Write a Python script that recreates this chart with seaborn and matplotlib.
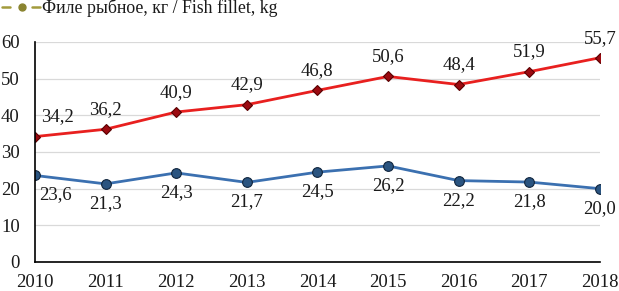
import matplotlib
matplotlib.use("Agg")
import matplotlib.pyplot as plt
from matplotlib.lines import Line2D
import seaborn as sns
import pandas as pd

years = [2010, 2011, 2012, 2013, 2014, 2015, 2016, 2017, 2018]
red_values = [34.2, 36.2, 40.9, 42.9, 46.8, 50.6, 48.4, 51.9, 55.7]
blue_values = [23.6, 21.3, 24.3, 21.7, 24.5, 26.2, 22.2, 21.8, 20.0]
legend_label = "Филе рыбное, кг / Fish fillet, kg"

sns.set_theme(style="white")
plt.rcParams['font.family'] = ['Liberation Serif', 'DejaVu Serif']

df = pd.DataFrame({"year": years, "red": red_values, "blue": blue_values})

W, H = 619, 291
fig = plt.figure(figsize=(W / 100, H / 100), dpi=100)
ax = fig.add_axes([0.0565, 0.0997, 0.9125, 0.756])

sns.lineplot(data=df, x="year", y="red", ax=ax, color="#e8201f", lw=2,
             marker="D", markersize=5.5, markerfacecolor="#9b0a10",
             markeredgecolor="#5a0000", markeredgewidth=0.8)
sns.lineplot(data=df, x="year", y="blue", ax=ax, color="#3b70b0", lw=2,
             marker="o", markersize=7, markerfacecolor="#2a5480",
             markeredgecolor="#10253d", markeredgewidth=0.8)

fs = 13.5
for i, (x, v) in enumerate(zip(years, red_values)):
    dx = 16 if i == 0 else 0
    ax.annotate(f"{v:.1f}".replace(".", ","), (x, v), xytext=(dx, 8),
                textcoords="offset points", ha="center", va="bottom",
                fontsize=fs, color="#1a1a1a", annotation_clip=False)
for i, (x, v) in enumerate(zip(years, blue_values)):
    dx = 15 if i == 0 else 0
    ax.annotate(f"{v:.1f}".replace(".", ","), (x, v), xytext=(dx, -8),
                textcoords="offset points", ha="center", va="top",
                fontsize=fs, color="#1a1a1a", annotation_clip=False)

ax.set_xlim(2010, 2018)
ax.set_ylim(0, 60)
ax.set_yticks(range(0, 61, 10))
ax.set_xticks(years)
ax.set_xticklabels([str(y) for y in years])
ax.tick_params(axis="both", length=0, labelsize=fs, colors="#1a1a1a")
ax.tick_params(axis="x", pad=9)
ax.tick_params(axis="y", pad=11)
ax.set_xlabel("")
ax.set_ylabel("")
ax.grid(axis="y", color="#d9d9d9", lw=0.9)
ax.set_axisbelow(True)
for s in ["top", "right"]:
    ax.spines[s].set_visible(False)
for s in ["left", "bottom"]:
    ax.spines[s].set_color("black")
    ax.spines[s].set_linewidth(1.2)

# legend-like key drawn in figure pixel fractions
ky = 1 - 6.5 / H
olive = "#a29b3c"
fig.add_artist(Line2D([2 / W, 10 / W], [ky, ky], transform=fig.transFigure,
                      color=olive, lw=1.8))
fig.add_artist(Line2D([32 / W, 40 / W], [ky, ky], transform=fig.transFigure,
                      color=olive, lw=1.8))
fig.add_artist(Line2D([22 / W], [ky], transform=fig.transFigure, lw=0,
                      marker="o", markersize=5, markerfacecolor="#8a8430",
                      markeredgecolor="#8a8430"))
fig.text(42 / W, 1 - 8 / H, legend_label, ha="left", va="center",
         fontsize=12.8, color="#1a1a1a")

fig.savefig("out.png", dpi=100)
